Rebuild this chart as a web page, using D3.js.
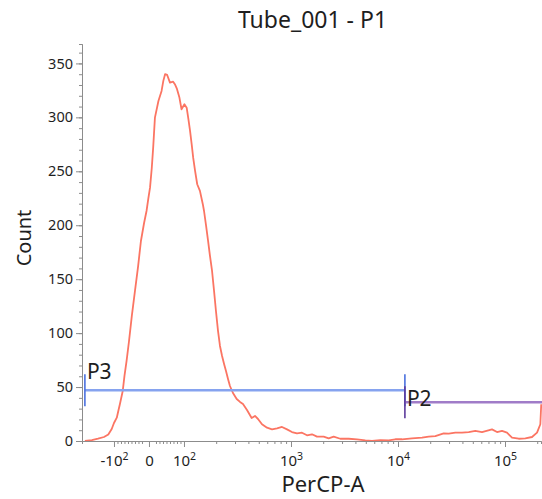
<!DOCTYPE html>
<html>
<head>
<meta charset="utf-8">
<script src="https://cdn.jsdelivr.net/npm/d3@7"></script>
<style>
  body { margin: 0; background: #fff; }
  svg text { font-family: "Segoe UI", "Noto Sans", "Open Sans", sans-serif; fill: #1e1e1e; }
  .axis path, .axis line { stroke: #8c8c8c; }
</style>
</head>
<body>
<svg id="chart" width="542" height="499"></svg>
<script>
// histogram: PerCP-A value, count
var percpValues = [-187, -161, -141, -124, -113, -105, -100, -92, -87, -83, -75, -70, -64, -57, -49, -40, -31, -23, -14, -7,
    -2, 3, 8, 12, 17, 27, 36, 41, 46, 52, 60, 69, 74, 80, 87, 93, 101, 106, 110, 114,
    118, 122, 127, 133, 141, 150, 154, 161, 168, 175, 183, 191, 199, 208, 217, 227, 237, 247, 258, 269,
    287, 311, 334, 356, 388, 429, 461, 492, 536, 597, 665, 740, 824, 918, 1021, 1138, 1267, 1411, 1571, 1750,
    2021, 2251, 2506, 2888, 3462, 4139, 4948, 5715, 6834, 8188, 9436, 10900, 13510, 16760, 19360, 22320, 26740, 29780, 34320, 39640,
    45790, 52780, 60950, 75590, 84190, 93760, 104400, 116300, 134300, 154800, 178800, 199100, 213800, 218000];
var counts = [0, 0.9, 2.1, 3.7, 6.0, 11.1, 16.7, 21.6, 28.7, 34.3, 46.4, 60.3, 74.2, 92.7, 115.9, 139.1, 162.2, 185.4, 202.1, 213.2,
    224.4, 234.8, 253.1, 271.9, 299.7, 315.2, 324.5, 333.8, 340, 339.3, 332.2, 333.1, 330.7, 326.3, 318.3, 307.5, 312.2, 309, 298.3, 287.4,
    275.1, 262.4, 250.3, 238, 231.8, 219.5, 213.2, 199.3, 185.4, 171.5, 157.6, 139.1, 120.5, 102, 88.1, 78.8, 71.4, 64.9, 57.5, 51,
    44.5, 38.9, 36.2, 34.3, 28.7, 21.3, 23.2, 20.4, 15.5, 12.3, 10.8, 11.8, 13, 10.8, 8.3, 7.1, 7.7, 5.3, 6.2, 4,
    4, 2.5, 4, 2.1, 2.1, 1.6, 0.6, 0, 0.9, 0.6, 1.6, 1.6, 2.5, 3.1, 4, 4.6, 7.1, 6.8, 7.7, 7.7,
    8.3, 9.3, 8.3, 10.8, 8.3, 9.3, 7.7, 3.1, 2.1, 2.5, 3.7, 7.7, 15.5, 34];

// axis
var xMin = -199, xMax = 216900;
var yMax = 368;
var xMajorTicks = [-100, 0, 100, 1000, 10000, 100000];
var xMajorLabels = [["-10", "2"], ["0", ""], ["10", "2"], ["10", "3"], ["10", "4"], ["10", "5"]];
var xMinorTicks = [-90, -80, -70, -60, -50, -40, -30, -20, 20, 30, 40, 50, 60, 70, 80, 90,
    200, 300, 400, 500, 600, 700, 800, 900, 2000, 3000, 4000, 5000, 6000, 7000, 8000, 9000,
    20000, 30000, 40000, 50000, 60000, 70000, 80000, 90000, 200000];
var yMajorTicks = [0, 50, 100, 150, 200, 250, 300, 350];

// gates: name, from, to, drawn at count
var gateNames = ["P3", "P2"];
var gateFrom = [-187, 11600];
var gateTo = [11600, 262144];
var gateLevel = [47, 36];

var title = "Tube_001 - P1";
var xTitle = "PerCP-A";
var yTitle = "Count";

// logicle-like transform: linear within +-100, log outside
var linW = 0.327;
function tf(v) {
    if (v > 100) return linW + Math.log10(v / 100);
    if (v < -100) return -linW - Math.log10(-v / 100);
    return v / 100 * linW;
}

var pLeft = 82, pRight = 541, pTop = 44, pBottom = 441;
var svg = d3.select("#chart");

var x = d3.scaleLinear().domain([tf(xMin), tf(xMax)]).range([pLeft, pRight]);
var y = d3.scaleLinear().domain([0, yMax]).range([pBottom, pTop]);

// y axis
svg.append("g").attr("class", "axis")
    .attr("transform", "translate(" + pLeft + ",0)")
    .call(d3.axisLeft(y).tickValues(d3.range(0, 361, 10)).tickSize(3).tickFormat(""));
var yAx = svg.append("g").attr("class", "axis")
    .attr("transform", "translate(" + pLeft + ",0)")
    .call(d3.axisLeft(y).tickValues(yMajorTicks).tickSize(6).tickSizeOuter(0));
yAx.selectAll("text").attr("font-size", 14.5).attr("x", -9);

// x axis
svg.append("g").attr("class", "axis")
    .attr("transform", "translate(0," + pBottom + ")")
    .call(d3.axisBottom(x).tickValues(xMinorTicks.map(tf)).tickSize(3).tickFormat(""));
var xAx = svg.append("g").attr("class", "axis")
    .attr("transform", "translate(0," + pBottom + ")")
    .call(d3.axisBottom(x).tickValues(xMajorTicks.map(tf)).tickSize(6).tickSizeOuter(0).tickFormat(""));
xAx.selectAll(".tick text").each(function(d, i) {
    var t = d3.select(this).attr("font-size", 15).attr("y", 14).attr("dy", "0.71em");
    t.append("tspan").text(xMajorLabels[i][0]);
    if (xMajorLabels[i][1]) {
        t.append("tspan").attr("font-size", 10.5).attr("dy", "-0.5em").text(xMajorLabels[i][1]);
    }
});
svg.selectAll(".axis .domain").attr("stroke", "#8c8c8c");

// curve
var clip = svg.append("defs").append("clipPath").attr("id", "plotclip")
    .append("rect").attr("x", pLeft).attr("y", 0).attr("width", pRight - pLeft + 1).attr("height", pBottom);

var pts = percpValues.map(function(v, i) { return [v, counts[i]]; });
var line = d3.line().x(function(d) { return x(tf(d[0])); }).y(function(d) { return y(d[1]); });
svg.append("path").datum(pts)
    .attr("clip-path", "url(#plotclip)")
    .attr("d", line)
    .attr("fill", "none")
    .attr("stroke", "#fb7563")
    .attr("stroke-width", 1.8)
    .attr("stroke-linejoin", "round");

// gates
var gateLine = ["#86a3ef", "#a07cc8"];
var gateEnd = ["#4a70de", "#5d3a9c"];
var labelDy = [-11, 4];
var gates = svg.append("g").attr("clip-path", "url(#plotclip)");
for (var g = 0; g < gateNames.length; g++) {
    var gy = y(gateLevel[g]);
    var x1 = x(tf(gateFrom[g])), x2 = x(tf(gateTo[g]));
    gates.append("line").attr("x1", x1).attr("x2", x2).attr("y1", gy).attr("y2", gy)
        .attr("stroke", gateLine[g]).attr("stroke-width", 2.5);
    [x1, x2].forEach(function(xx) {
        gates.append("line").attr("x1", xx).attr("x2", xx).attr("y1", gy - 16).attr("y2", gy + 16)
            .attr("stroke", gateEnd[g]).attr("stroke-width", 1.6);
    });
}
for (var k = 0; k < gateNames.length; k++) {
    svg.append("text").attr("x", x(tf(gateFrom[k])) + 2).attr("y", y(gateLevel[k]) + labelDy[k])
        .attr("font-size", 21).text(gateNames[k]);
}

// titles
svg.append("text").attr("x", (pLeft + pRight) / 2 + 1).attr("y", 28)
    .attr("text-anchor", "middle").attr("font-size", 23).text(title);
svg.append("text").attr("x", 323).attr("y", 492)
    .attr("text-anchor", "middle").attr("font-size", 22).text(xTitle);
svg.append("text").attr("transform", "translate(31,238) rotate(-90)")
    .attr("text-anchor", "middle").attr("font-size", 20).text(yTitle);
</script>
</body>
</html>
